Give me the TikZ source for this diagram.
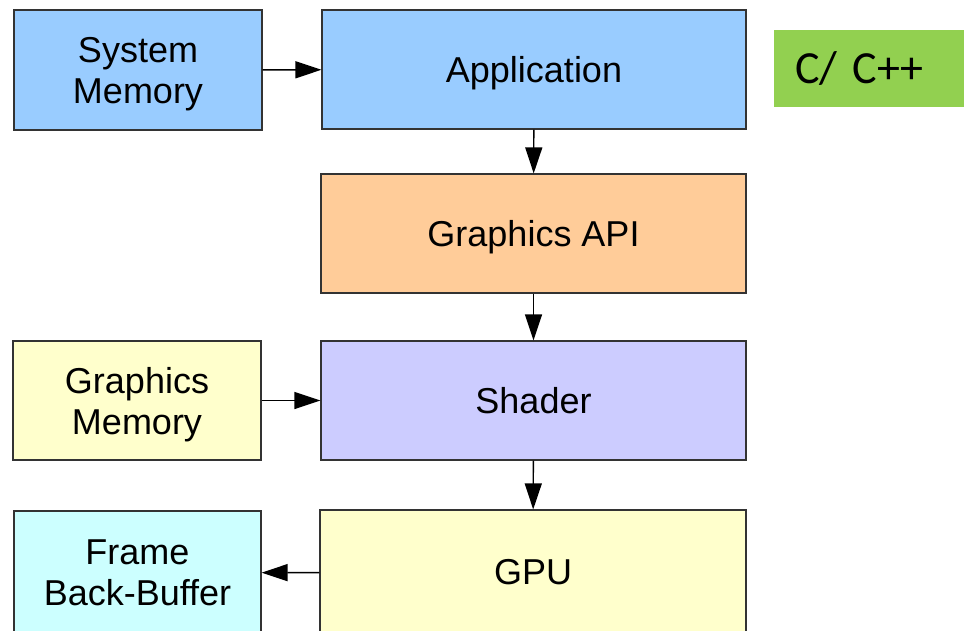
\documentclass[tikz,border=0pt]{standalone}
\usepackage{fontspec}
\setmainfont{Liberation Sans}
\newfontfamily\calibri{Carlito}
\usetikzlibrary{arrows.meta, positioning}

\definecolor{sysblue}{HTML}{99CCFF}
\definecolor{apiorange}{HTML}{FFCC99}
\definecolor{shadepurple}{HTML}{CCCCFF}
\definecolor{memyellow}{HTML}{FFFFCC}
\definecolor{bufcyan}{HTML}{CCFFFF}
\definecolor{langgreen}{HTML}{92D050}

\tikzset{
    block/.style={draw=black!80, line width=1.2pt, align=center, inner sep=0pt,
        text depth=0pt, font=\fontsize{36}{41}\selectfont},
    flow/.style={line width=1.4pt, -{Triangle[length=26pt, width=17pt]}}
}

\begin{document}
\begin{tikzpicture}[x=1pt, y=-1pt]
                    \useasboundingbox (0,0) rectangle (965,630);
                    \clip (0,0) rectangle (965,630);
                    % Left column
                    \node[block, fill=sysblue, minimum width=248pt, minimum height=120pt] (sysmem) at (138,70) {System\\Memory};
                    \node[block, fill=memyellow, minimum width=248pt, minimum height=119pt] (gfxmem) at (137,400.5) {Graphics\\Memory};
                    \node[block, fill=bufcyan, minimum width=247pt, minimum height=124pt] (backbuf) at (137.5,573) {Frame\\Back-Buffer};
                    % Main pipeline
                    \node[block, fill=sysblue, minimum width=424pt, minimum height=119pt] (app) at (534,69.5) {Application};
                    \node[block, fill=apiorange, minimum width=425pt, minimum height=119pt] (api) at (533.5,233.5) {Graphics API};
                    \node[block, fill=shadepurple, minimum width=425pt, minimum height=119pt] (shader) at (533.5,400.5) {Shader};
                    \node[block, fill=memyellow, minimum width=426pt, minimum height=124pt] (gpu) at (533,572) {GPU};
                    % Language tag
                    \node[fill=langgreen, minimum height=77pt, inner xsep=21pt, inner ysep=0pt,
                        text width=148pt, align=left,
                        font=\calibri\fontsize{46}{50}\selectfont] (lang) at (869,68.5) {C/ C++};
                    % Arrows
                    \draw[flow] (sysmem) -- (app);
                    \draw[flow] (app) -- (api);
                    \draw[flow] (api) -- (shader);
                    \draw[flow] (gfxmem) -- (shader);
                    \draw[flow] (shader) -- (gpu);
                    \draw[flow] (gpu) -- (backbuf);
                \end{tikzpicture}
\end{document}
